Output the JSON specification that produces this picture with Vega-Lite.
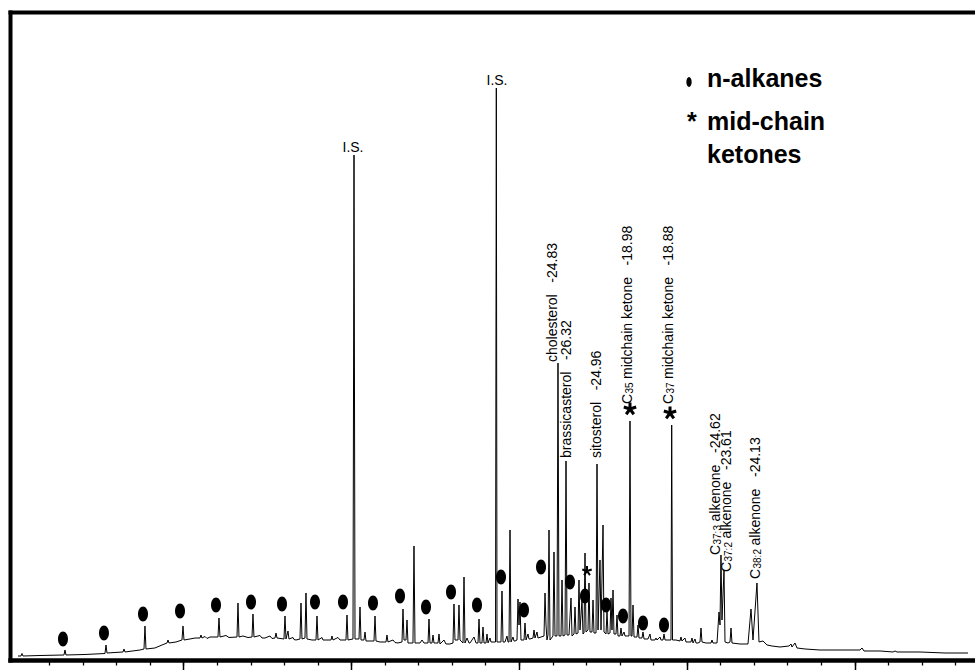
{
  "$schema": "https://vega.github.io/schema/vega-lite/v6.json",
  "width": 965,
  "height": 648,
  "autosize": {"type": "none"},
  "padding": {"left": 10, "top": 12, "right": 0, "bottom": 10},
  "background": "white",
  "config": {
    "view": {"stroke": null},
    "axis": {"labels": false, "title": null, "grid": false, "domainColor": "black", "tickColor": "black", "domainCap": "square"},
    "text": {"font": "Liberation Sans", "color": "black"}
  },
  "resolve": {"axis": {"x": "independent", "y": "independent"}},
  "datasets": {
    "trace": [
      {"t":0.067,"s":0.617},{"t":0.156,"s":0.617},{"t":0.186,"s":1.003},{"t":0.216,"s":0.617},{"t":0.723,"s":0.694},
      {"t":1.438,"s":0.772},{"t":1.468,"s":1.543},{"t":1.498,"s":0.772},{"t":2.064,"s":0.849},
      {"t":2.660,"s":1.003},{"t":2.690,"s":2.315},{"t":2.720,"s":1.080},
      {"t":3.197,"s":1.235},{"t":3.226,"s":1.698},{"t":3.256,"s":1.235},{"t":3.703,"s":1.543},
      {"t":3.823,"s":1.698},{"t":3.852,"s":5.247},{"t":3.882,"s":1.698},{"t":4.150,"s":1.852},{"t":4.359,"s":2.315},
      {"t":4.508,"s":2.623},{"t":4.538,"s":3.086},{"t":4.568,"s":2.623},{"t":4.776,"s":2.778},
      {"t":4.955,"s":3.086},{"t":4.985,"s":5.247},{"t":5.015,"s":3.086},{"t":5.194,"s":3.241},{"t":5.343,"s":3.395},
      {"t":5.492,"s":3.395},{"t":5.522,"s":3.858},{"t":5.551,"s":3.395},{"t":5.641,"s":3.627},{"t":5.701,"s":3.318},{"t":5.790,"s":3.549},
      {"t":6.028,"s":3.549},{"t":6.058,"s":6.481},{"t":6.088,"s":3.549},{"t":6.267,"s":3.781},{"t":6.356,"s":3.472},
      {"t":6.595,"s":3.549},{"t":6.624,"s":8.796},{"t":6.654,"s":3.549},{"t":6.773,"s":3.704},{"t":6.922,"s":3.472},
      {"t":7.042,"s":3.549},{"t":7.071,"s":7.099},{"t":7.101,"s":3.549},{"t":7.280,"s":3.781},{"t":7.340,"s":3.395},{"t":7.429,"s":3.395},
      {"t":7.578,"s":3.704},{"t":7.638,"s":3.318},
      {"t":7.727,"s":3.395},{"t":7.757,"s":4.167},{"t":7.787,"s":3.395},
      {"t":7.995,"s":3.241},{"t":8.025,"s":6.790},{"t":8.055,"s":3.241},{"t":8.115,"s":4.475},{"t":8.144,"s":3.241},
      {"t":8.264,"s":3.472},{"t":8.294,"s":3.164},
      {"t":8.353,"s":3.086},{"t":8.472,"s":3.241},{"t":8.502,"s":8.796},{"t":8.532,"s":3.241},
      {"t":8.621,"s":3.395},{"t":8.651,"s":10.340},{"t":8.681,"s":3.241},{"t":8.830,"s":3.086},
      {"t":8.949,"s":3.086},{"t":8.979,"s":6.790},{"t":9.009,"s":3.086},{"t":9.128,"s":3.472},{"t":9.158,"s":3.086},{"t":9.218,"s":3.086},
      {"t":9.396,"s":3.086},{"t":9.426,"s":3.704},{"t":9.456,"s":3.086},{"t":9.605,"s":3.472},{"t":9.665,"s":3.086},
      {"t":9.843,"s":3.086},{"t":9.873,"s":6.944},{"t":9.903,"s":3.086},
      {"t":10.052,"s":3.241},{"t":10.082,"s":77.932},{"t":10.112,"s":3.241},
      {"t":10.231,"s":3.241},{"t":10.261,"s":8.179},{"t":10.291,"s":3.086},
      {"t":10.380,"s":3.086},{"t":10.410,"s":4.321},{"t":10.440,"s":2.932},{"t":10.559,"s":2.932},
      {"t":10.678,"s":2.932},{"t":10.708,"s":6.790},{"t":10.738,"s":2.932},{"t":10.857,"s":2.778},
      {"t":11.036,"s":2.778},{"t":11.065,"s":3.858},{"t":11.095,"s":2.778},{"t":11.244,"s":3.086},{"t":11.304,"s":2.701},{"t":11.393,"s":2.623},
      {"t":11.513,"s":2.778},{"t":11.542,"s":7.870},{"t":11.572,"s":3.086},{"t":11.632,"s":3.086},{"t":11.662,"s":6.173},{"t":11.691,"s":2.623},
      {"t":11.840,"s":2.623},{"t":11.870,"s":17.593},{"t":11.900,"s":2.623},{"t":12.049,"s":2.623},{"t":12.109,"s":3.086},{"t":12.168,"s":2.623},
      {"t":12.288,"s":2.623},{"t":12.317,"s":6.327},{"t":12.347,"s":2.623},{"t":12.407,"s":2.623},{"t":12.437,"s":3.858},{"t":12.466,"s":2.623},
      {"t":12.586,"s":2.623},{"t":12.615,"s":4.012},{"t":12.645,"s":2.469},{"t":12.764,"s":3.086},{"t":12.824,"s":2.469},{"t":12.943,"s":2.469},
      {"t":13.033,"s":2.623},{"t":13.062,"s":8.642},{"t":13.092,"s":3.086},{"t":13.182,"s":3.086},{"t":13.211,"s":8.488},{"t":13.241,"s":3.086},
      {"t":13.331,"s":2.623},{"t":13.361,"s":12.809},{"t":13.390,"s":2.623},{"t":13.450,"s":3.395},{"t":13.510,"s":2.623},{"t":13.539,"s":2.623},
      {"t":13.659,"s":3.549},{"t":13.719,"s":2.623},
      {"t":13.778,"s":2.623},{"t":13.808,"s":6.327},{"t":13.837,"s":2.623},{"t":13.897,"s":2.623},{"t":13.927,"s":5.093},{"t":13.957,"s":2.623},
      {"t":14.016,"s":2.623},{"t":14.046,"s":4.012},{"t":14.076,"s":2.623},{"t":14.135,"s":3.395},{"t":14.165,"s":2.778},{"t":14.195,"s":2.778},
      {"t":14.300,"s":2.778},{"t":14.324,"s":88.272},{"t":14.344,"s":2.778},
      {"t":14.463,"s":2.778},{"t":14.493,"s":10.648},{"t":14.523,"s":2.778},{"t":14.583,"s":2.778},
      {"t":14.642,"s":3.704},{"t":14.672,"s":2.778},
      {"t":14.702,"s":2.778},{"t":14.732,"s":20.062},{"t":14.761,"s":2.778},{"t":14.821,"s":3.549},{"t":14.851,"s":2.932},{"t":14.881,"s":2.932},
      {"t":14.940,"s":3.086},{"t":14.970,"s":9.414},{"t":15.000,"s":5.401},{"t":15.030,"s":8.951},{"t":15.059,"s":3.086},
      {"t":15.149,"s":3.086},{"t":15.179,"s":5.710},{"t":15.209,"s":3.086},{"t":15.268,"s":4.012},{"t":15.298,"s":3.241},{"t":15.328,"s":3.241},
      {"t":15.417,"s":3.395},{"t":15.447,"s":4.630},{"t":15.477,"s":3.395},{"t":15.536,"s":4.321},{"t":15.566,"s":3.395},
      {"t":15.656,"s":3.549},{"t":15.745,"s":3.704},{"t":15.775,"s":10.340},{"t":15.805,"s":5.401},{"t":15.834,"s":3.086},
      {"t":15.864,"s":3.858},{"t":15.894,"s":20.062},{"t":15.924,"s":3.086},
      {"t":16.013,"s":3.704},{"t":16.043,"s":16.667},{"t":16.073,"s":3.704},
      {"t":16.132,"s":3.704},{"t":16.162,"s":45.833},{"t":16.192,"s":3.704},
      {"t":16.252,"s":3.704},{"t":16.282,"s":12.346},{"t":16.311,"s":3.704},
      {"t":16.371,"s":3.858},{"t":16.401,"s":30.710},{"t":16.431,"s":3.858},
      {"t":16.490,"s":3.858},{"t":16.550,"s":9.568},{"t":16.580,"s":3.704},
      {"t":16.639,"s":4.012},{"t":16.669,"s":8.179},{"t":16.699,"s":4.012},
      {"t":16.758,"s":4.167},{"t":16.788,"s":12.346},{"t":16.818,"s":4.630},{"t":16.878,"s":9.259},{"t":16.907,"s":4.012},
      {"t":16.937,"s":4.167},{"t":16.967,"s":16.512},{"t":16.997,"s":4.321},
      {"t":17.056,"s":4.630},{"t":17.086,"s":11.883},{"t":17.116,"s":4.321},
      {"t":17.176,"s":4.321},{"t":17.206,"s":9.259},{"t":17.235,"s":4.167},
      {"t":17.295,"s":4.167},{"t":17.325,"s":30.247},{"t":17.355,"s":4.630},{"t":17.414,"s":15.432},{"t":17.444,"s":4.630},{"t":17.504,"s":20.833},{"t":17.533,"s":4.321},
      {"t":17.593,"s":4.012},{"t":17.623,"s":7.407},{"t":17.653,"s":4.012},
      {"t":17.712,"s":4.167},{"t":17.742,"s":9.568},{"t":17.772,"s":4.630},{"t":17.802,"s":10.802},{"t":17.831,"s":4.012},
      {"t":17.891,"s":4.012},{"t":17.921,"s":6.944},{"t":17.951,"s":3.704},
      {"t":18.010,"s":3.704},{"t":18.040,"s":4.938},{"t":18.070,"s":3.704},{"t":18.130,"s":4.321},{"t":18.160,"s":3.704},{"t":18.189,"s":3.704},
      {"t":18.279,"s":3.704},{"t":18.308,"s":36.883},{"t":18.338,"s":3.704},
      {"t":18.368,"s":3.704},{"t":18.398,"s":8.488},{"t":18.428,"s":3.549},
      {"t":18.517,"s":3.549},{"t":18.547,"s":5.401},{"t":18.577,"s":3.395},
      {"t":18.666,"s":3.395},{"t":18.696,"s":4.321},{"t":18.726,"s":3.241},
      {"t":18.845,"s":3.241},{"t":18.904,"s":4.012},{"t":18.934,"s":3.086},
      {"t":19.053,"s":3.086},{"t":19.083,"s":3.395},{"t":19.113,"s":3.086},{"t":19.202,"s":3.549},{"t":19.232,"s":3.086},
      {"t":19.292,"s":3.086},{"t":19.322,"s":4.012},{"t":19.352,"s":3.086},
      {"t":19.530,"s":3.086},{"t":19.551,"s":36.265},{"t":19.575,"s":3.086},{"t":19.679,"s":3.086},
      {"t":19.798,"s":2.932},{"t":19.828,"s":3.549},{"t":19.858,"s":2.932},{"t":19.947,"s":3.395},{"t":19.977,"s":2.778},{"t":20.037,"s":2.778},
      {"t":20.126,"s":2.778},{"t":20.156,"s":3.395},{"t":20.186,"s":2.623},{"t":20.246,"s":3.241},{"t":20.276,"s":2.623},{"t":20.335,"s":2.623},
      {"t":20.395,"s":2.778},{"t":20.424,"s":4.938},{"t":20.454,"s":2.778},{"t":20.573,"s":2.623},
      {"t":20.722,"s":2.623},{"t":20.752,"s":3.086},{"t":20.782,"s":2.623},
      {"t":20.901,"s":2.623},{"t":20.961,"s":7.407},{"t":20.991,"s":5.401},{"t":21.020,"s":16.204},{"t":21.050,"s":6.173},{"t":21.110,"s":13.889},{"t":21.140,"s":2.778},
      {"t":21.229,"s":2.623},{"t":21.289,"s":2.778},{"t":21.319,"s":4.938},{"t":21.348,"s":2.623},
      {"t":21.587,"s":2.469},{"t":21.825,"s":2.469},{"t":21.915,"s":7.870},{"t":21.974,"s":3.086},{"t":22.093,"s":11.883},{"t":22.153,"s":2.778},
      {"t":22.272,"s":2.932},{"t":22.392,"s":2.315},{"t":22.541,"s":2.160},{"t":22.779,"s":2.006},
      {"t":23.047,"s":2.160},{"t":23.107,"s":2.469},{"t":23.137,"s":2.006},{"t":23.226,"s":2.623},{"t":23.286,"s":1.852},
      {"t":23.524,"s":1.698},{"t":23.971,"s":1.543},{"t":24.568,"s":1.543},
      {"t":25.164,"s":1.543},{"t":25.223,"s":1.852},{"t":25.283,"s":1.389},{"t":25.760,"s":1.389},
      {"t":26.147,"s":1.235},{"t":26.207,"s":1.389},{"t":26.267,"s":1.235},{"t":26.952,"s":1.235},
      {"t":27.697,"s":1.080},{"t":28.383,"s":1.080}
    ],
    "alkanes": [
      {"t":1.408,"s":3.241},{"t":2.630,"s":4.167},{"t":3.793,"s":7.099},{"t":4.896,"s":7.562},
      {"t":5.969,"s":8.488},{"t":7.012,"s":8.951},{"t":7.936,"s":8.642},{"t":8.919,"s":8.951},
      {"t":9.754,"s":8.951},{"t":10.648,"s":8.796},{"t":11.453,"s":9.877},{"t":12.228,"s":8.179},
      {"t":12.973,"s":10.494},{"t":13.748,"s":8.488},{"t":14.463,"s":12.809},{"t":15.149,"s":7.716},
      {"t":15.656,"s":14.352},{"t":16.520,"s":12.037},{"t":16.967,"s":9.877},{"t":17.593,"s":8.488},
      {"t":18.100,"s":6.790},{"t":18.696,"s":5.710},{"t":19.322,"s":5.401}
    ],
    "ketones": [
      {"t":17.027,"s":13.735,"labelled":"no"},
      {"t":18.308,"s":38.735,"labelled":"yes"},
      {"t":19.501,"s":38.117,"labelled":"yes"}
    ],
    "is": [
      {"t":10.052,"s":78.395,"txt":"I.S."},
      {"t":14.344,"s":88.73,"txt":"I.S."}
    ],
    "labels": [
      {"t":16.013,"s":45.988,"txt":"cholesterol\u00a0\u00a0\u00a0-24.83"},
      {"t":16.431,"s":31.173,"txt":"brassicasterol\u00a0\u00a0\u00a0-26.32"},
      {"t":17.325,"s":31.173,"txt":"sitosterol\u00a0\u00a0\u00a0-24.96"}
    ],
    "clabels": [
      {"t":18.234,"s":39.506,"sub":"35","rest":"midchain ketone\u00a0\u00a0\u00a0-18.98","kind":"ketone"},
      {"t":19.471,"s":39.506,"sub":"37","rest":"midchain ketone\u00a0\u00a0\u00a0-18.88","kind":"ketone"},
      {"t":20.871,"s":16.204,"sub":"37:3","rest":"alkenone\u00a0\u00a0\u00a0-24.62","kind":"alkenone"},
      {"t":21.199,"s":13.580,"sub":"37:2","rest":"alkenone\u00a0\u00a0\u00a0-23.61","kind":"alkenone"},
      {"t":22.064,"s":12.500,"sub":"38:2","rest":"alkenone\u00a0\u00a0\u00a0-24.13","kind":"alkenone"}
    ],
    "legend": [
      {"t":20.604,"s":88.426,"txt":"n-alkanes"},
      {"t":20.007,"s":81.790,"txt":"*"},
      {"t":20.604,"s":81.790,"txt":"mid-chain"},
      {"t":20.604,"s":76.698,"txt":"ketones"}
    ],
    "legendmark": [
      {"t":20.067,"s":89.198}
    ]
  },
  "layer": [
    {
      "data": {"name": "trace"},
      "mark": {"type": "line", "color": "black", "strokeWidth": 1},
      "encoding": {
        "x": {"field": "t", "type": "quantitative", "scale": {"domain": [-0.171, 28.591], "nice": false, "zero": false},
              "axis": {"orient": "bottom", "values": [1,2,3,4,5,6,7,8,9,10,11,12,13,14,15,16,17,18,19,20,21,22,23,24,25,26,27,28], "tickSize": 5, "tickWidth": 1.3, "domainWidth": 4.5, "labels": false, "title": null}},
        "y": {"field": "s", "type": "quantitative", "scale": {"domain": [0, 100], "nice": false, "zero": false},
              "axis": {"orient": "left", "ticks": false, "domainWidth": 4, "labels": false, "title": null}}
      }
    },
    {
      "data": {"name": "alkanes"},
      "mark": {"type": "point", "shape": "M-0.667,0A0.667,1,0,1,1,0.667,0A0.667,1,0,1,1,-0.667,0Z", "filled": true, "color": "black", "opacity": 1, "size": 225},
      "encoding": {
        "x": {"field": "t", "type": "quantitative", "scale": {"domain": [-0.171, 28.591], "nice": false, "zero": false},
              "axis": {"orient": "bottom", "values": [5,10,15,20,25], "tickSize": 10, "tickWidth": 1.5, "domain": false, "labels": false, "title": null}},
        "y": {"field": "s", "type": "quantitative", "scale": {"domain": [0, 100], "nice": false, "zero": false}, "axis": null}
      }
    },
    {
      "data": {"name": "ketones"},
      "mark": {"type": "point", "shape": "M0,0L0,-1M0,0L0.951,-0.309M0,0L0.588,0.809M0,0L-0.588,0.809M0,0L-0.951,-0.309", "filled": false, "color": "black", "opacity": 1},
      "encoding": {
        "x": {"field": "t", "type": "quantitative", "scale": {"domain": [-0.171, 28.591], "nice": false, "zero": false},
              "axis": {"orient": "top", "ticks": false, "domainWidth": 4, "labels": false, "title": null}},
        "y": {"field": "s", "type": "quantitative", "scale": {"domain": [0, 100], "nice": false, "zero": false}, "axis": null},
        "size": {"field": "labelled", "type": "nominal", "scale": {"domain": ["yes", "no"], "range": [169, 100]}, "legend": null},
        "strokeWidth": {"field": "labelled", "type": "nominal", "scale": {"domain": ["yes", "no"], "range": [3, 2]}, "legend": null}
      }
    },
    {
      "data": {"name": "is"},
      "mark": {"type": "text", "fontSize": 14, "align": "center", "baseline": "alphabetic"},
      "encoding": {
        "x": {"field": "t", "type": "quantitative", "scale": {"domain": [-0.171, 28.591], "nice": false, "zero": false}, "axis": null},
        "y": {"field": "s", "type": "quantitative", "scale": {"domain": [0, 100], "nice": false, "zero": false}, "axis": null},
        "text": {"field": "txt"}
      }
    },
    {
      "data": {"name": "labels"},
      "mark": {"type": "text", "fontSize": 14, "angle": 270, "align": "left", "baseline": "middle"},
      "encoding": {
        "x": {"field": "t", "type": "quantitative", "scale": {"domain": [-0.171, 28.591], "nice": false, "zero": false}, "axis": null},
        "y": {"field": "s", "type": "quantitative", "scale": {"domain": [0, 100], "nice": false, "zero": false}, "axis": null},
        "text": {"field": "txt"}
      }
    },
    {
      "data": {"name": "clabels"},
      "mark": {"type": "text", "fontSize": 14, "angle": 270, "align": "left", "baseline": "middle", "text": "C"},
      "encoding": {
        "x": {"field": "t", "type": "quantitative", "scale": {"domain": [-0.171, 28.591], "nice": false, "zero": false}, "axis": null},
        "y": {"field": "s", "type": "quantitative", "scale": {"domain": [0, 100], "nice": false, "zero": false}, "axis": null}
      }
    },
    {
      "data": {"name": "clabels"},
      "mark": {"type": "text", "fontSize": 10, "angle": 270, "align": "left", "baseline": "middle", "dx": 10.5, "dy": 2},
      "encoding": {
        "x": {"field": "t", "type": "quantitative", "scale": {"domain": [-0.171, 28.591], "nice": false, "zero": false}, "axis": null},
        "y": {"field": "s", "type": "quantitative", "scale": {"domain": [0, 100], "nice": false, "zero": false}, "axis": null},
        "text": {"field": "sub"}
      }
    },
    {
      "data": {"name": "clabels"},
      "transform": [{"filter": "datum.kind === 'ketone'"}],
      "mark": {"type": "text", "fontSize": 14, "angle": 270, "align": "left", "baseline": "middle", "dx": 25},
      "encoding": {
        "x": {"field": "t", "type": "quantitative", "scale": {"domain": [-0.171, 28.591], "nice": false, "zero": false}, "axis": null},
        "y": {"field": "s", "type": "quantitative", "scale": {"domain": [0, 100], "nice": false, "zero": false}, "axis": null},
        "text": {"field": "rest"}
      }
    },
    {
      "data": {"name": "clabels"},
      "transform": [{"filter": "datum.kind === 'alkenone'"}],
      "mark": {"type": "text", "fontSize": 14, "angle": 270, "align": "left", "baseline": "middle", "dx": 33.5},
      "encoding": {
        "x": {"field": "t", "type": "quantitative", "scale": {"domain": [-0.171, 28.591], "nice": false, "zero": false}, "axis": null},
        "y": {"field": "s", "type": "quantitative", "scale": {"domain": [0, 100], "nice": false, "zero": false}, "axis": null},
        "text": {"field": "rest"}
      }
    },
    {
      "data": {"name": "legend"},
      "mark": {"type": "text", "fontSize": 25, "fontWeight": "bold", "align": "left", "baseline": "alphabetic"},
      "encoding": {
        "x": {"field": "t", "type": "quantitative", "scale": {"domain": [-0.171, 28.591], "nice": false, "zero": false}, "axis": null},
        "y": {"field": "s", "type": "quantitative", "scale": {"domain": [0, 100], "nice": false, "zero": false}, "axis": null},
        "text": {"field": "txt"}
      }
    },
    {
      "data": {"name": "legendmark"},
      "mark": {"type": "point", "shape": "M-0.53,0A0.53,1,0,1,1,0.53,0A0.53,1,0,1,1,-0.53,0Z", "filled": true, "color": "black", "opacity": 1, "size": 100},
      "encoding": {
        "x": {"field": "t", "type": "quantitative", "scale": {"domain": [-0.171, 28.591], "nice": false, "zero": false}, "axis": null},
        "y": {"field": "s", "type": "quantitative", "scale": {"domain": [0, 100], "nice": false, "zero": false}, "axis": null}
      }
    }
  ]
}
